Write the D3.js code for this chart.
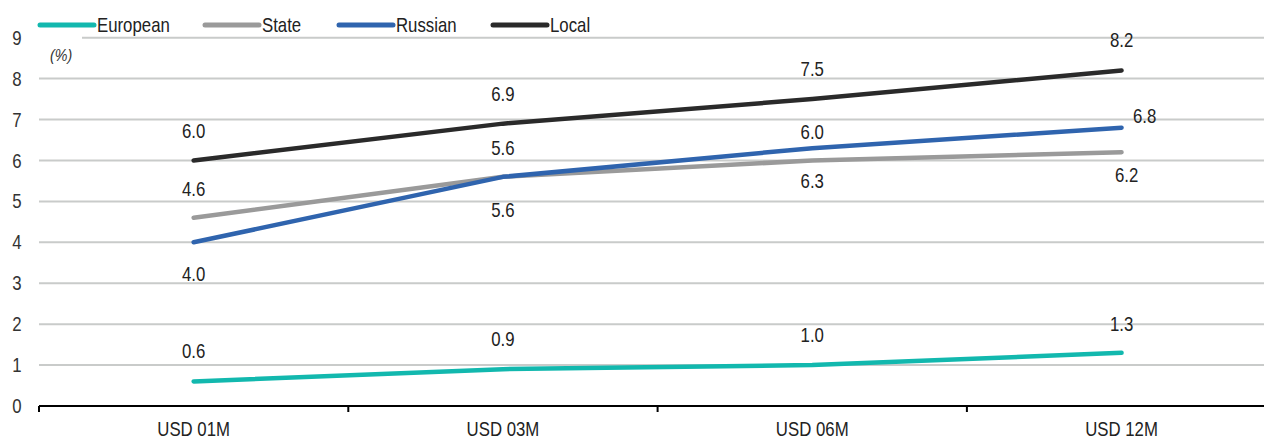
<!DOCTYPE html>
<html>
<head>
<meta charset="utf-8">
<script src="https://cdn.jsdelivr.net/npm/d3@7"></script>
<style>
  html, body { margin: 0; padding: 0; background: #fff; }
  svg { display: block; font-family: "Liberation Sans", Arial, sans-serif; }
</style>
</head>
<body>
<svg id="chart" width="1264" height="439"></svg>
<script>
// Yield curves by issuer group, USD tenors (%)
const categories = ["USD 01M", "USD 03M", "USD 06M", "USD 12M"];
const european = [0.6, 0.9, 1.0, 1.3];
const state    = [4.6, 5.6, 6.0, 6.2];
const russian  = [4.0, 5.6, 6.3, 6.8];
const local    = [6.0, 6.9, 7.5, 8.2];
const yTicks   = [0, 1, 2, 3, 4, 5, 6, 7, 8, 9];
const seriesNames = ["European", "State", "Russian", "Local"];

// Styling and label placement (kept apart from the values)
const colors = { European: "#12b8ae", State: "#9a9a9a", Russian: "#2f64ae", Local: "#2a2a2a" };
const labelOffsets = {
  European: [[0, -30], [0, -30], [0, -30], [0, -29]],
  State:    [[0, -29], [0, -29], [0, -29], [5, 23]],
  Russian:  [[0, 32], [0, 33], [0, 33], [23, -12]],
  Local:    [[0, -30], [0, -30], [0, -30], [0, -30]]
};
const squeeze = 0.84; // horizontal compression giving a condensed face

const series = [
  { name: "European", values: european },
  { name: "State", values: state },
  { name: "Russian", values: russian },
  { name: "Local", values: local }
];

const svg = d3.select("#chart");
const left = 39, bandW = 309.3, y0 = 406, y9 = 37.7;

const x = d3.scaleBand().domain(categories).range([left, left + bandW * categories.length]).padding(0);
const y = d3.scaleLinear().domain([0, 9]).range([y0, y9]);
const cx = c => x(c) + x.bandwidth() / 2;

// Places text at (px, py) with condensed glyphs
function place(sel, px, py) {
  sel.attr("x", 0).attr("y", 0)
    .attr("transform", (d, i) => `translate(${px(d, i)},${py(d, i)}) scale(${squeeze},1)`);
  return sel;
}

// Horizontal gridlines
svg.append("g").selectAll("line")
  .data(yTicks.filter(t => t > 0))
  .join("line")
  .attr("x1", t => t === 9 ? 82 : left)
  .attr("x2", 1264)
  .attr("y1", t => y(t)).attr("y2", t => y(t))
  .attr("stroke", "#c9cbca").attr("stroke-width", 2);

// Y tick labels
svg.append("g").selectAll("text")
  .data(yTicks)
  .join("text")
  .call(place, () => 17, t => y(t))
  .attr("text-anchor", "middle").attr("dominant-baseline", "central")
  .attr("font-size", 20).attr("fill", "#333")
  .text(t => t);

// Unit note
svg.append("text")
  .datum(0)
  .call(place, () => 50, () => 55)
  .attr("dominant-baseline", "central")
  .attr("font-size", 17).attr("font-style", "italic").attr("fill", "#333")
  .text("(%)");

// X axis
const xAxis = d3.axisBottom(x).tickSize(0).tickPadding(0);
const gx = svg.append("g").attr("transform", `translate(0,${y0})`).call(xAxis);
gx.select(".domain").remove();
gx.selectAll(".tick text")
  .attr("font-size", 20).attr("fill", "#222")
  .attr("font-family", "'Liberation Sans', Arial, sans-serif")
  .attr("dy", null)
  .call(place, () => 0, () => 30);
svg.append("line")
  .attr("x1", left).attr("x2", 1264).attr("y1", y0).attr("y2", y0)
  .attr("stroke", "#000").attr("stroke-width", 2);
svg.append("g").selectAll("line")
  .data(categories)
  .join("line")
  .attr("x1", c => x(c)).attr("x2", c => x(c))
  .attr("y1", y0).attr("y2", y0 + 6)
  .attr("stroke", "#000").attr("stroke-width", 2);

// Lines
const line = d3.line().x((v, i) => cx(categories[i])).y(v => y(v));
svg.append("g").selectAll("path")
  .data(series)
  .join("path")
  .attr("d", s => line(s.values))
  .attr("fill", "none")
  .attr("stroke", s => colors[s.name])
  .attr("stroke-width", 4.5)
  .attr("stroke-linecap", "round")
  .attr("stroke-linejoin", "round");

// Value labels
const labels = svg.append("g");
series.forEach(s => {
  labels.selectAll(null)
    .data(s.values)
    .join("text")
    .call(place,
      (v, i) => cx(categories[i]) + labelOffsets[s.name][i][0],
      (v, i) => y(v) + labelOffsets[s.name][i][1])
    .attr("text-anchor", "middle").attr("dominant-baseline", "central")
    .attr("font-size", 20).attr("fill", "#222")
    .text(v => v.toFixed(1));
});

// Legend
const legendX = [40, 205, 339, 493];
const lg = svg.append("g").selectAll("g")
  .data(seriesNames)
  .join("g")
  .attr("transform", (n, i) => `translate(${legendX[i]},25)`);
lg.append("line")
  .attr("x1", 0).attr("x2", 54).attr("y1", 0).attr("y2", 0)
  .attr("stroke", n => colors[n]).attr("stroke-width", 5).attr("stroke-linecap", "round");
lg.append("text")
  .call(place, () => 57, () => 0)
  .attr("dominant-baseline", "central")
  .attr("font-size", 20).attr("fill", "#222")
  .text(n => n);
</script>
</body>
</html>
